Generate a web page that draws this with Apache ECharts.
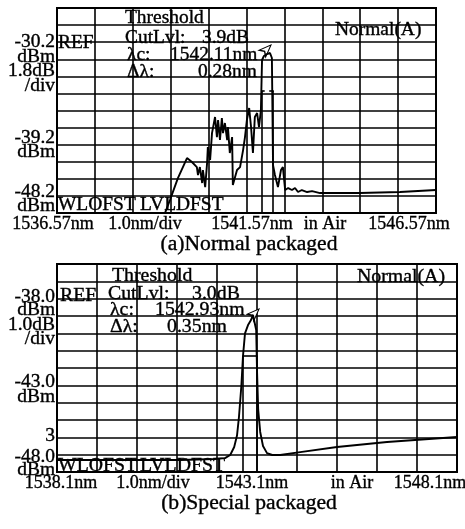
<!DOCTYPE html>
<html><head><meta charset="utf-8">
<script src="https://cdn.jsdelivr.net/npm/echarts@6/dist/echarts.min.js"></script>
<style>html,body{margin:0;padding:0;background:#fff}#c{width:465px;height:529px}</style>
</head><body><div id="c"></div>
<script>
// ---------- data ----------
// (a) Normal packaged: wavelength (nm) / power (dBm)
const topWavelength = [1539.42,1539.55,1539.76,1540.00,1540.13,1540.26,1540.29,1540.34,1540.40,1540.42,1540.48,1540.53,1540.55,1540.61,1540.66,1540.74,1540.79,1540.82,1540.87,1540.92,1540.95,1541.00,1541.06,1541.08,1541.13,1541.19,1541.21,1541.32,1541.40,1541.48,1541.53,1541.58,1541.64,1541.69,1541.74,1541.79,1541.85,1541.90,1541.95,1541.98,1542.03,1542.11,1542.19,1542.24,1542.27,1542.32,1542.40,1542.48,1542.53,1542.59,1542.67,1542.77,1542.85,1542.93,1543.03,1543.17,1543.30,1543.51,1544.56,1545.62,1546.57];
const topPower = [-50.0,-48.64,-46.32,-44.21,-44.63,-45.16,-46.00,-45.16,-46.84,-45.47,-47.27,-44.74,-43.05,-44.42,-41.58,-39.89,-42.00,-40.20,-42.31,-39.99,-41.58,-40.52,-42.31,-40.94,-43.68,-42.00,-47.06,-45.47,-45.16,-43.37,-42.00,-40.20,-38.94,-40.94,-43.68,-39.89,-39.47,-40.94,-39.15,-33.88,-33.46,-33.25,-33.14,-33.67,-44.95,-46.00,-47.27,-45.47,-45.16,-47.58,-47.37,-47.58,-47.37,-47.79,-47.58,-47.79,-47.69,-47.90,-47.90,-47.79,-47.58];
// (b) Special packaged
const bottomWavelength = [1538.10,1539.68,1541.18,1542.05,1542.30,1542.43,1542.53,1542.60,1542.65,1542.71,1542.75,1542.80,1542.88,1542.95,1543.00,1543.05,1543.08,1543.10,1543.13,1543.18,1543.25,1543.35,1543.48,1543.68,1544.18,1545.10,1546.35,1548.10];
const bottomPower = [-48.31,-48.31,-48.31,-48.25,-48.20,-48.02,-47.56,-46.90,-45.80,-44.00,-42.30,-41.00,-40.50,-40.23,-39.94,-40.00,-40.81,-43.12,-45.42,-46.69,-47.50,-47.91,-48.02,-48.02,-47.85,-47.56,-47.27,-46.98];

// threshold marker readings
const topPeak = -33.25, topThreshold = -37.15, topLc = 1542.11, topDl = 0.28;
const botPeak = -39.94, botThreshold = -42.30, botLc = 1542.93, botDl = 0.35;

// axis ranges (10 divisions horizontally, 12 rows vertically incl. header/footer rows)
const topXMin = 1536.57, topXMax = 1546.57, topYMin = -50.0, topYMax = -28.4;
const botXMin = 1538.1, botXMax = 1548.1, botYMin = -49.0, botYMax = -37.0;

// tick / annotation labels
const topXLabels = ['1536.57nm','1.0nm/div','1541.57nm','in Air','1546.57nm'];
const botXLabels = ['1538.1nm','1.0nm/div','1543.1nm','in Air','1548.1nm'];
const topYLabels = ['-30.2','dBm','1.8dB','/div','-39.2','dBm','-48.2','dBm'];
const botYLabels = ['-38.0','dBm','1.0dB','/div','-43.0','dBm','3','-48.0','dBm'];
const topInfo = ['Threshold','CutLvl:','3.9dB','\u03bbc:','1542.11nm','\u0394\u03bb:','0.28nm','Normal(A)','REF','WLOFST','LVLDFST'];
const botInfo = ['Threshold','CutLvl:','3.0dB','\u03bbc:','1542.93nm','\u0394\u03bb:','0.35nm','Normal(A)','REF','WLOFST','LVLDFST'];
const captions = ['(a)Normal packaged','(b)Special packaged'];

// ---------- layout ----------
const FONT = '"Liberation Serif", "Times New Roman", serif';
function txt(s, x, y, size, align, sx) {
  return {type:'text', x:x, y:y, scaleX: sx || 1, z:100,
    style:{text:s, fill:'#000', stroke:'#000', lineWidth:0.35, font: size + 'px ' + FONT, align: align || 'left', verticalAlign:'middle'}};
}
const g = [];
// left labels
const topYPos = [42,57,71,86,138,152,192,206];
topYLabels.forEach((s,i)=>g.push(txt(s,55,topYPos[i],18,'right',1.08)));
const botYPos = [297,310,325,339,382,397,436,457,470];
botYLabels.forEach((s,i)=>g.push(txt(s,55,botYPos[i],18,'right',1.08)));
// x labels
const topXPos = [53,145,252,325,409];
topXLabels.forEach((s,i)=>g.push(txt(s,topXPos[i],224,18,'center',1.0)));
const botXPos = [61,153,252,352,430];
botXLabels.forEach((s,i)=>g.push(txt(s,botXPos[i],483,18,'center',1.0)));
// in-grid info
const topInfoPos = [[125,18],[125,38],[202,38],[127,55],[170,55],[127,72],[198,72],[335,30],[58,43],[58,205],[140,205]];
topInfo.forEach((s,i)=>g.push(txt(s,topInfoPos[i][0],topInfoPos[i][1],18,'left',1.08)));
const botInfoPos = [[112,276],[108,294],[192,294],[110,310],[155,310],[110,327],[167,327],[357,277],[60,296],[58,466],[140,466]];
botInfo.forEach((s,i)=>g.push(txt(s,botInfoPos[i][0],botInfoPos[i][1],18,'left',1.1)));
g.push(txt(captions[0],249,245,20,'center',1.08));
g.push(txt(captions[1],249,504,20,'center',1.08));

function zip(a,b){return a.map((v,i)=>[v,b[i]]);}
const gridLine = {show:true, lineStyle:{color:'#000', width:1.6}};
function hiddenAxis(extra){return Object.assign({show:false}, extra);}
function divAxis(extra){return Object.assign({type:'value', axisLine:{show:false}, axisTick:{show:false}, axisLabel:{show:false}, splitLine:gridLine}, extra);}

function markerLines(lc, dl, thr, bottom, ticks) {
  const l1 = lc - dl/2, l2 = lc + dl/2;
  const d = [
    [{coord:[l1,thr]},{coord:[l1,bottom]}],
    [{coord:[l2,thr]},{coord:[l2,bottom]}]
  ];
  if (ticks) {
    d.push([{coord:[l1,thr]},{coord:[l1+0.08,thr]}]);
    d.push([{coord:[l2-0.08,thr]},{coord:[l2+0.04,thr]}]);
  } else {
    d.push([{coord:[l1,thr]},{coord:[l2,thr]}]);
  }
  return {silent:true, symbol:['none','none'], label:{show:false}, lineStyle:{color:'#000', type:'solid', width:1.6}, data:d};
}

const chart = echarts.init(document.getElementById('c'), null, {renderer:'canvas'});
chart.setOption({
  animation:false,
  backgroundColor:'#fff',
  grid:[
    {left:57, top:8, width:379, height:205, show:true, borderColor:'#000', borderWidth:2, backgroundColor:'transparent'},
    {left:57, top:264, width:400, height:208, show:true, borderColor:'#000', borderWidth:2, backgroundColor:'transparent'}
  ],
  xAxis:[
    hiddenAxis({gridIndex:0, type:'value', min:topXMin, max:topXMax}),
    divAxis({gridIndex:0, min:0, max:10, interval:1}),
    hiddenAxis({gridIndex:1, type:'value', min:botXMin, max:botXMax}),
    divAxis({gridIndex:1, min:0, max:10, interval:1})
  ],
  yAxis:[
    hiddenAxis({gridIndex:0, type:'value', min:topYMin, max:topYMax}),
    divAxis({gridIndex:0, min:0, max:12, interval:1}),
    hiddenAxis({gridIndex:1, type:'value', min:botYMin, max:botYMax}),
    divAxis({gridIndex:1, min:0, max:12, interval:1})
  ],
  series:[
    {type:'line', xAxisIndex:0, yAxisIndex:0, data:zip(topWavelength, topPower), showSymbol:false, clip:true,
     lineStyle:{color:'#000', width:1.9}, z:5,
     markLine: markerLines(topLc, topDl, topThreshold, topYMin, true),
     markPoint:{silent:true, symbol:'arrow', symbolSize:[7,12], symbolRotate:-45, symbolOffset:[4,-9],
       itemStyle:{color:'#fff', borderColor:'#000', borderWidth:1.2}, label:{show:false},
       data:[{coord:[topLc, topPeak]}]}},
    {type:'line', xAxisIndex:2, yAxisIndex:2, data:zip(bottomWavelength, bottomPower), showSymbol:false, clip:true,
     lineStyle:{color:'#000', width:1.9}, z:5,
     markLine: markerLines(botLc, botDl, botThreshold, botYMin, false),
     markPoint:{silent:true, symbol:'arrow', symbolSize:[7,12], symbolRotate:-45, symbolOffset:[4,-6],
       itemStyle:{color:'#fff', borderColor:'#000', borderWidth:1.2}, label:{show:false},
       data:[{coord:[1543.05, botPeak]}]}}
  ],
  graphic: g
});
</script></body></html>
